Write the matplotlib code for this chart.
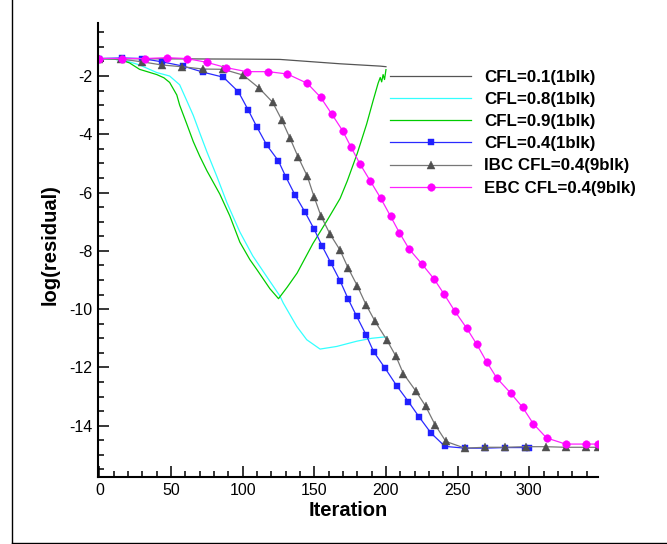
import matplotlib
matplotlib.use("Agg")
import matplotlib.pyplot as plt
from matplotlib.lines import Line2D
from matplotlib.ticker import MultipleLocator

plt.rcParams['font.family'] = ['Liberation Sans', 'DejaVu Sans']
plt.rcParams['axes.unicode_minus'] = False

# ---------------- data ----------------
labels = ["CFL=0.1(1blk)", "CFL=0.8(1blk)", "CFL=0.9(1blk)",
          "CFL=0.4(1blk)", "IBC CFL=0.4(9blk)", "EBC CFL=0.4(9blk)"]

cfl01_x = [0, 50, 100, 126, 140, 154, 168, 182, 196, 200]
cfl01_y = [-1.40, -1.41, -1.42, -1.43, -1.48, -1.53, -1.58, -1.62, -1.66, -1.68]

cfl08_x = [0, 10, 20, 28, 40, 49, 56, 61, 65.5, 70, 75, 82, 89, 98, 107, 117,
           126, 128.3, 137.7, 144.7, 154, 165.6, 179.6, 190, 200]
cfl08_y = [-1.40, -1.42, -1.50, -1.62, -1.88, -2.0, -2.3, -2.85, -3.35, -3.95,
           -4.6, -5.45, -6.35, -7.35, -8.17, -8.9, -9.55, -9.79, -10.59, -11.05,
           -11.37, -11.28, -11.1, -11.0, -10.95]

cfl09_x = [0, 10, 15, 21, 28, 40, 45, 49, 54, 56, 61, 65.5, 70, 75, 84, 91, 98,
           105, 110, 119, 125, 131, 138, 149, 159, 168, 173, 180, 186.5, 191,
           194.5, 196, 197, 198, 199, 200]
cfl09_y = [-1.40, -1.42, -1.45, -1.55, -1.77, -1.95, -2.06, -2.22, -2.65, -3.0,
           -3.65, -4.25, -4.75, -5.25, -6.05, -6.8, -7.7, -8.3, -8.65, -9.3,
           -9.64, -9.25, -8.76, -7.75, -6.95, -6.2, -5.6, -4.65, -3.65, -2.85,
           -2.25, -2.05, -2.2, -1.95, -2.12, -1.78]

cfl04_x = [0, 15.6, 29.5, 43.4, 58.5, 72.5, 86.5, 97, 103.9, 109.8, 116.8, 124.9,
           130.2, 136.5, 143.5, 149.8, 155.6, 161.6, 167.9, 173.7, 179.6, 186.1,
           191.4, 199.3, 207.5, 215.6, 223.3, 231.4, 241.2, 255.1, 269, 283, 297,
           300]
cfl04_y = [-1.40, -1.38, -1.40, -1.51, -1.66, -1.87, -2.04, -2.54, -3.17, -3.74,
           -4.37, -4.91, -5.47, -6.08, -6.67, -7.25, -7.85, -8.42, -9.02, -9.66,
           -10.25, -10.88, -11.46, -12.02, -12.63, -13.17, -13.71, -14.25, -14.71,
           -14.77, -14.77, -14.75, -14.75, -14.75]

ibc_x = [0, 15, 29.5, 43.4, 57.4, 72.5, 86.5, 100.4, 111.6, 120.9, 127.2, 132.8,
         138.8, 145.1, 149.8, 154.6, 160.9, 167.9, 173.7, 180, 186.1, 192.4, 200.5,
         207, 212.1, 220.7, 227.7, 234.2, 241.8, 255.1, 269, 283, 297.5, 311.4,
         325.4, 339.4, 348]
ibc_y = [-1.40, -1.42, -1.51, -1.62, -1.68, -1.76, -1.77, -1.97, -2.42, -2.90,
         -3.50, -4.11, -4.79, -5.44, -6.14, -6.80, -7.42, -7.97, -8.60, -9.20,
         -9.85, -10.42, -11.05, -11.62, -12.21, -12.80, -13.33, -13.96, -14.54,
         -14.77, -14.74, -14.74, -14.72, -14.72, -14.74, -14.74, -14.74]

ebc_x = [0, 15.6, 31.8, 47, 61, 74.9, 88.3, 102.8, 117.9, 131.1, 145.1, 154.4,
         162.1, 169.8, 175.4, 181.9, 188.9, 196.3, 203.3, 209.3, 216.2, 224.9,
         233.5, 240.5, 248.2, 256.3, 263.3, 270.3, 277.3, 287, 295.4, 302.8,
         312.1, 325.4, 339.6, 348]
ebc_y = [-1.40, -1.40, -1.40, -1.37, -1.40, -1.53, -1.71, -1.85, -1.85, -1.93,
         -2.25, -2.73, -3.30, -3.88, -4.42, -5.02, -5.59, -6.19, -6.82, -7.37,
         -7.94, -8.44, -8.96, -9.48, -10.08, -10.65, -11.20, -11.81, -12.36,
         -12.88, -13.37, -13.93, -14.42, -14.63, -14.63, -14.63]

x_ticks = [0, 50, 100, 150, 200, 250, 300]
y_ticks = [-2, -4, -6, -8, -10, -12, -14]

# ---------------- figure ----------------
W, H = 667, 544
fig = plt.figure(figsize=(W / 100, H / 100), dpi=100)
ax = fig.add_axes([98 / W, 1 - 477 / H, 500 / W, (477 - 22.7) / H])

lw = 0.9
ax.plot(cfl01_x, cfl01_y, color='#555555', lw=lw, label=labels[0])
ax.plot(cfl08_x, cfl08_y, color='#33ffff', lw=lw, label=labels[1])
ax.plot(cfl09_x, cfl09_y, color='#00cc00', lw=lw, label=labels[2])
ax.plot(cfl04_x, cfl04_y, color='#2a2aff', lw=lw, marker='s', ms=5,
        mfc='#2020ff', mec='#2020ff', mew=0.3, label=labels[3])
ax.plot(ibc_x, ibc_y, color='#777777', lw=lw, marker='^', ms=6,
        mfc='#505050', mec='#505050', mew=0.3, label=labels[4])
ax.plot(ebc_x, ebc_y, color='#ff22ff', lw=lw, marker='o', ms=5.5,
        mfc='#ff00ff', mec='#ff00ff', mew=0.3, label=labels[5])

ax.set_xlim(-1, 348)
ax.set_ylim(-15.76, -0.17)

for s in ['top', 'right']:
    ax.spines[s].set_visible(False)
for s in ['left', 'bottom']:
    ax.spines[s].set_linewidth(1.5)
    ax.spines[s].set_color('black')

ax.set_xticks(x_ticks)
ax.set_yticks(y_ticks)
ax.xaxis.set_minor_locator(MultipleLocator(10))
ax.yaxis.set_minor_locator(MultipleLocator(0.5))
ax.tick_params(which='both', direction='in', top=False, right=False,
               width=1.1, color='black')
ax.tick_params(which='major', length=8, labelsize=11.5)
ax.tick_params(which='minor', length=4.5)
ax.tick_params(axis='x', which='major', pad=4)
ax.tick_params(axis='y', which='major', pad=4)

ax.set_xlabel('Iteration', fontsize=14.5, fontweight='bold')
ax.xaxis.set_label_coords(0.5, -(510 - 477) / 454.3)
ax.xaxis.label.set_va('center')
ax.set_ylabel('log(residual)', fontsize=14.5, fontweight='bold')
ax.yaxis.set_label_coords((50.5 - 98) / 500, (477 - 245) / 454.3)
ax.yaxis.label.set_va('center')

leg = ax.legend(loc='upper left', bbox_to_anchor=(390 / W, 1 - 70 / H),
                bbox_transform=fig.transFigure, frameon=False,
                prop={'size': 12.2, 'weight': 'bold'}, handlelength=4.8,
                handletextpad=0.75, labelspacing=0.42, borderpad=0,
                borderaxespad=0, numpoints=1)

# figure border (left and bottom)
fig.add_artist(Line2D([11.5 / W, 11.5 / W], [0, 1], color='black', lw=1.0,
                      transform=fig.transFigure))
fig.add_artist(Line2D([11.5 / W, 1], [1.0 / H, 1.0 / H], color='black', lw=1.0,
                      transform=fig.transFigure))

fig.savefig('out.png', dpi=100)
